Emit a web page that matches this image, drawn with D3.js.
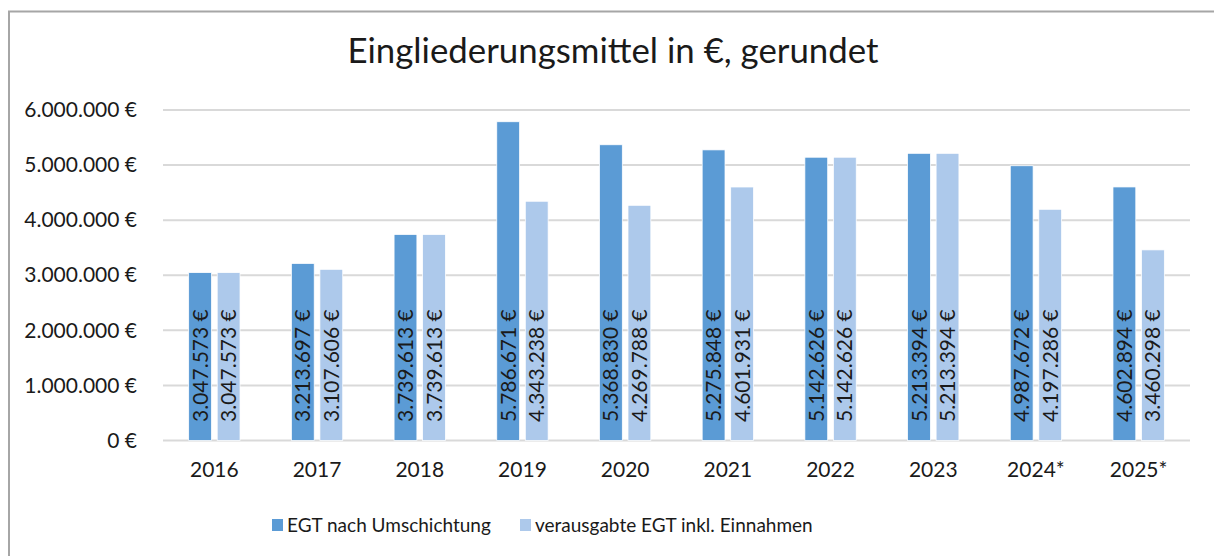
<!DOCTYPE html>
<html>
<head>
<meta charset="utf-8">
<script src="https://cdn.jsdelivr.net/npm/d3@7"></script>
<style>
  body { margin: 0; background: #fff; }
  svg { display: block; font-family: Lato, "Open Sans", sans-serif; }
</style>
</head>
<body>
<svg id="chart" width="1214" height="556"></svg>
<script>
const years = ['2016', '2017', '2018', '2019', '2020', '2021', '2022', '2023', '2024*', '2025*'];
const nachUmschichtung = [3047573, 3213697, 3739613, 5786671, 5368830, 5275848, 5142626, 5213394, 4987672, 4602894];
const verausgabt = [3047573, 3107606, 3739613, 4343238, 4269788, 4601931, 5142626, 5213394, 4197286, 3460298];
const seriesNames = ['EGT nach Umschichtung', 'verausgabte EGT inkl. Einnahmen'];
const yTicks = [0, 1000000, 2000000, 3000000, 4000000, 5000000, 6000000];

const colors = ['#5b9bd5', '#adc9eb'];

const svg = d3.select('#chart');

const de = d3.formatLocale({ decimal: ',', thousands: '.', grouping: [3], currency: ['', ' €'] });
const fmtEuro = v => de.format(',.0f')(v) + ' €';

// frame
svg.append('path')
  .attr('d', 'M9,556 V11.5 H1214')
  .attr('fill', 'none')
  .attr('stroke', '#a6a6a6')
  .attr('stroke-width', 2);

svg.append('text')
  .attr('x', 613)
  .attr('y', 63)
  .attr('text-anchor', 'middle')
  .attr('font-size', 34)
  .attr('textLength', 531)
  .attr('lengthAdjust', 'spacingAndGlyphs')
  .attr('fill', '#1a1a1a')
  .text('Eingliederungsmittel in €, gerundet');

const x0 = d3.scaleBand().domain(years).range([163, 1190]).paddingInner(0.5).paddingOuter(0.25);
const x1 = d3.scaleBand().domain(seriesNames).range([0, x0.bandwidth()]).paddingInner(0.2);
const y = d3.scaleLinear().domain([0, 6000000]).range([440.5, 110]);

// grid
svg.append('g')
  .selectAll('line')
  .data(yTicks)
  .join('line')
    .attr('x1', 163)
    .attr('x2', 1190)
    .attr('y1', d => y(d))
    .attr('y2', d => y(d))
    .attr('stroke', '#d9d9d9')
    .attr('stroke-width', 2);

// y axis labels
const yAxis = svg.append('g')
  .attr('transform', 'translate(145,0)')
  .call(d3.axisLeft(y).tickValues(yTicks).tickFormat(fmtEuro).tickSize(0).tickPadding(8));
yAxis.select('.domain').remove();
yAxis.selectAll('text')
  .attr('font-family', 'Lato, sans-serif')
  .attr('font-size', 21)
  .attr('fill', '#1a1a1a');

// x axis labels
const xAxis = svg.append('g')
  .attr('transform', 'translate(0,448)')
  .call(d3.axisBottom(x0).tickSize(0).tickPadding(14));
xAxis.select('.domain').remove();
xAxis.selectAll('text')
  .attr('font-family', 'Lato, sans-serif')
  .attr('font-size', 21)
  .attr('fill', '#1a1a1a');

const rows = years.map((yr, i) => ({ year: yr, values: [nachUmschichtung[i], verausgabt[i]] }));

const groups = svg.append('g')
  .selectAll('g')
  .data(rows)
  .join('g')
    .attr('transform', d => `translate(${x0(d.year)},0)`);

groups.selectAll('rect')
  .data(d => d.values.map((v, k) => ({ key: seriesNames[k], k, v })))
  .join('rect')
    .attr('x', d => x1(d.key))
    .attr('width', x1.bandwidth())
    .attr('y', d => y(d.v))
    .attr('height', d => y(0) - y(d.v))
    .attr('fill', d => colors[d.k])
    .attr('stroke', '#fff')
    .attr('stroke-width', 0.75);

groups.selectAll('text')
  .data(d => d.values.map((v, k) => ({ key: seriesNames[k], v })))
  .join('text')
    .attr('transform', d => `translate(${x1(d.key) + x1.bandwidth() / 2},422) rotate(-90)`)
    .attr('dy', '0.36em')
    .attr('font-size', 21)
    .attr('fill', '#1a1a1a')
    .text(d => fmtEuro(d.v));

// legend
const legendX = [272, 520];
const legend = svg.append('g')
  .selectAll('g')
  .data(seriesNames)
  .join('g')
    .attr('transform', (d, i) => `translate(${legendX[i]},519)`);
legend.append('rect')
  .attr('width', 11)
  .attr('height', 12)
  .attr('fill', (d, i) => colors[i]);
legend.append('text')
  .attr('x', 15)
  .attr('y', 6)
  .attr('dy', '0.36em')
  .attr('font-size', 19)
  .attr('fill', '#1a1a1a')
  .text(d => d);
</script>
</body>
</html>
